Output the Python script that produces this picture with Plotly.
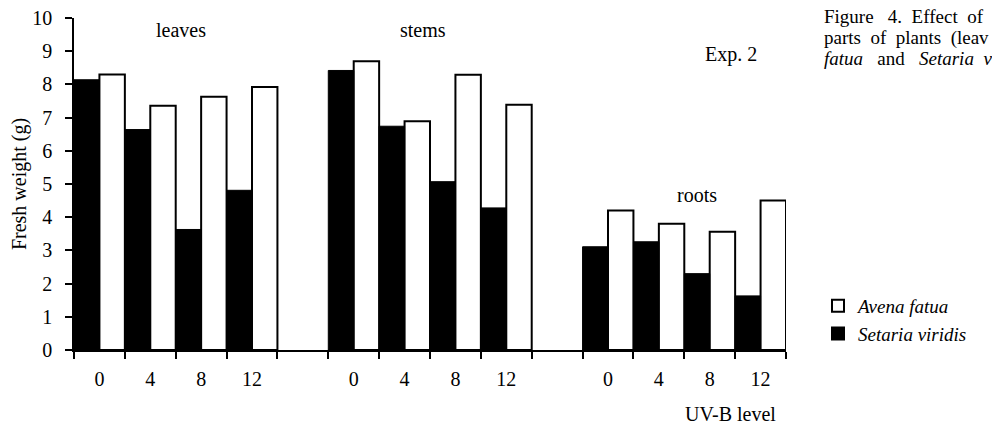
import plotly.graph_objects as go

# ---- data ----
groups = ["leaves", "stems", "roots"]
uv_levels = ["0", "4", "8", "12"]
avena_fatua = {
    "leaves": [8.30, 7.36, 7.63, 7.92],
    "stems": [8.70, 6.89, 8.29, 7.39],
    "roots": [4.20, 3.80, 3.56, 4.50],
}
setaria_viridis = {
    "leaves": [8.14, 6.64, 3.63, 4.81],
    "stems": [8.42, 6.74, 5.07, 4.28],
    "roots": [3.11, 3.26, 2.30, 1.63],
}
y_ticks = list(range(0, 11))

# slot layout: 4 UV levels per group + one empty slot between groups
slots_per_group = len(uv_levels) + 1
centers, labels, av_vals, sv_vals = [], [], [], []
for gi, g in enumerate(groups):
    for li, lv in enumerate(uv_levels):
        centers.append(gi * slots_per_group + li + 0.5)
        labels.append(lv)
        av_vals.append(avena_fatua[g][li])
        sv_vals.append(setaria_viridis[g][li])
n_slots = len(groups) * slots_per_group - 1

FONT = "Liberation Serif"
FS = 20
OFF = 8  # page body margin
W, H = 1000 - OFF, 427 - OFF
L, R, T, B = 74 - OFF, 1000 - 786, 18 - OFF, 427 - 350
PW, PH = W - L - R, H - T - B


def px(page_x):
    return (page_x - OFF - L) / PW


def py(page_y):
    return (H - B - (page_y - OFF)) / PH


fig = go.Figure()
fig.add_trace(go.Bar(
    x=centers, y=av_vals, name="Avena fatua", offset=0, width=0.5,
    marker=dict(color="white", line=dict(color="black", width=2)),
))
fig.add_trace(go.Bar(
    x=centers, y=sv_vals, name="Setaria viridis", offset=-0.5, width=0.5,
    marker=dict(color="black", line=dict(color="black", width=1)),
))

fig.update_layout(
    width=W, height=H,
    margin=dict(l=L, r=R, t=T, b=B, autoexpand=False),
    paper_bgcolor="white", plot_bgcolor="white",
    barmode="overlay",
    font=dict(family=FONT, size=FS, color="black"),
    showlegend=True,
    legend=dict(
        xref="container", yref="container",
        x=(818 - OFF) / W, y=1 - (320 - OFF) / H, xanchor="left", yanchor="middle",
        traceorder="normal", font=dict(family=FONT, size=19, style="italic"),
        itemsizing="constant", tracegroupgap=0, bgcolor="rgba(0,0,0,0)",
        borderwidth=0,
    ),
    xaxis=dict(
        range=[0, n_slots], tickmode="array", tickvals=centers, ticktext=labels,
        ticks="", showline=True, linecolor="black", linewidth=1.5,
        showgrid=False, zeroline=False, ticklabelstandoff=10, automargin=False,
        ticklabeloverflow="allow",
        minor=dict(tickmode="array", tickvals=list(range(0, n_slots + 1)),
                   ticks="outside", ticklen=7, tickwidth=1.5, tickcolor="black",
                   showgrid=False),
        tickfont=dict(family=FONT, size=FS),
    ),
    yaxis=dict(
        range=[0, 10], tickmode="array", tickvals=y_ticks,
        ticks="outside", ticklen=7, tickwidth=1.5, tickcolor="black",
        showline=True, linecolor="black", linewidth=1.5,
        showgrid=False, zeroline=False, automargin=False,
        ticklabelstandoff=9, ticklabeloverflow="allow",
        title=dict(text="Fresh weight (g)", font=dict(family=FONT, size=FS), standoff=4),
        tickfont=dict(family=FONT, size=FS),
    ),
)

ann = [
    dict(text="leaves", x=2.1, y=9.64),
    dict(text="stems", x=6.86, y=9.64),
    dict(text="roots", x=12.25, y=4.67),
    dict(text="Exp. 2", x=12.92, y=8.89),
]
for a in ann:
    fig.add_annotation(showarrow=False, xref="x", yref="y",
                       font=dict(family=FONT, size=FS), **a)

fig.add_annotation(text="UV-B level", xref="paper", yref="paper",
                   x=px(730), y=py(414),
                   xanchor="center", yanchor="middle", showarrow=False,
                   font=dict(family=FONT, size=FS))

NB = "\u00a0"
caption = [
    "Figure" + NB * 2 + " 4." + NB + " Effect" + NB + " of",
    "parts" + NB + " of" + NB + " plants" + NB + " (leav",
    "<i>fatua</i>" + NB * 2 + " and" + NB * 2 + " <i>Setaria</i>" + NB + " <i>v</i>",
]
caption_y = [17, 38, 58]
for line, yp in zip(caption, caption_y):
    fig.add_annotation(text=line, xref="paper", yref="paper",
                       x=px(822), y=py(yp),
                       xanchor="left", yanchor="middle",
                       showarrow=False, align="left",
                       font=dict(family=FONT, size=19))

fig.write_html("out.html")
